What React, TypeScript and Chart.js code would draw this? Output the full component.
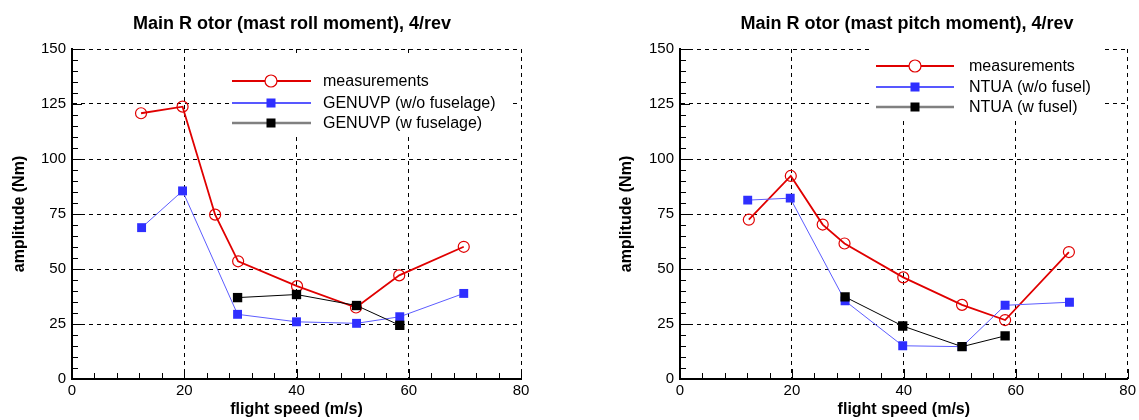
import React, { useEffect, useRef } from 'react';
import { Chart, registerables } from 'chart.js';

Chart.register(...registerables);

const FONT = '"Liberation Sans", Arial, Helvetica, sans-serif';

// ---- Axis ticks ----
const xTickValues = [0, 20, 40, 60, 80];
const yTickValues = [0, 25, 50, 75, 100, 125, 150];

// ---- Left chart: mast roll moment ----
const rollMeasSpeed = [12.3, 19.7, 25.5, 29.6, 40.1, 50.6, 58.3, 69.8];
const rollMeasAmp = [120.8, 123.8, 74.7, 53.5, 42.2, 32.5, 47.1, 60.1];
const rollNoFuseSpeed = [12.4, 19.7, 29.5, 40.0, 50.7, 58.4, 69.8];
const rollNoFuseAmp = [68.8, 85.5, 29.4, 26.0, 25.3, 28.3, 38.9];
const rollFuseSpeed = [29.5, 40.0, 50.7, 58.4];
const rollFuseAmp = [37.0, 38.4, 33.4, 24.4];

// ---- Right chart: mast pitch moment ----
const pitchMeasSpeed = [12.3, 19.8, 25.5, 29.4, 39.9, 50.4, 58.1, 69.5];
const pitchMeasAmp = [72.4, 92.3, 70.2, 61.6, 46.2, 33.7, 26.8, 57.7];
const pitchNoFuseSpeed = [12.1, 19.7, 29.5, 39.8, 50.4, 58.1, 69.6];
const pitchNoFuseAmp = [81.3, 82.2, 35.5, 15.1, 14.7, 33.5, 34.9];
const pitchFuseSpeed = [29.5, 39.8, 50.4, 58.1];
const pitchFuseAmp = [37.3, 24.1, 14.7, 19.6];

const leftTitle = 'Main R otor (mast roll moment), 4/rev';
const rightTitle = 'Main R otor (mast pitch moment), 4/rev';
const leftLegend = ['measurements', 'GENUVP (w/o fuselage)', 'GENUVP (w fuselage)'];
const rightLegend = ['measurements', 'NTUA (w/o fusel)', 'NTUA (w fusel)'];

const RED = '#e00000';
const BLUE_PT = '#2f2fff';
const BLUE_LN = '#5c5cff';

const zip = (xs: number[], ys: number[]) => xs.map((x, i) => ({ x, y: ys[i] }));

interface PanelCfg {
  width: number;
  padRight: number;
  yWidth: number;
  title: string;
  titleX: number;
  legend: string[];
  legendBox: [number, number, number, number];
  legendRows: number[];
  legendLine: [number, number];
  legendMarkX: number;
  legendTextX: number;
  meas: [number[], number[]];
  noFuse: [number[], number[]];
  fuse: [number[], number[]];
}

function decorPlugin(cfg: PanelCfg) {
  return {
    id: 'decor',
    afterDraw(chart: any) {
      const ctx = chart.ctx as CanvasRenderingContext2D;
      const { left, bottom } = chart.chartArea;
      const xs = chart.scales.x;
      const ys = chart.scales.y;
      ctx.save();
      // inward minor/major ticks
      ctx.strokeStyle = '#000';
      ctx.lineWidth = 1;
      ctx.beginPath();
      for (let v = 0; v <= 150; v += 5) {
        const py = Math.round(ys.getPixelForValue(v)) + 0.5;
        const len = v % 25 === 0 ? 9 : 5;
        ctx.moveTo(left, py);
        ctx.lineTo(left + 1 + len, py);
      }
      for (let v = 0; v <= 80; v += 4) {
        const px = Math.round(xs.getPixelForValue(v)) + 0.5;
        const len = v % 20 === 0 ? 9 : 5;
        ctx.moveTo(px, bottom);
        ctx.lineTo(px, bottom - 1 - len);
      }
      ctx.stroke();

      // title
      ctx.fillStyle = '#000';
      ctx.font = `bold 18px ${FONT}`;
      ctx.textAlign = 'center';
      ctx.textBaseline = 'middle';
      ctx.fillText(cfg.title, cfg.titleX, 24);

      // legend
      const [bx, by, bw, bh] = cfg.legendBox;
      ctx.fillStyle = '#fff';
      ctx.fillRect(bx, by, bw, bh);
      const [lx0, lx1] = cfg.legendLine;
      const mx = cfg.legendMarkX;
      const styles = [
        { line: RED, lw: 2, kind: 'circle' },
        { line: '#2020ff', lw: 1.5, kind: 'blue' },
        { line: '#808080', lw: 2.5, kind: 'black' },
      ];
      cfg.legendRows.forEach((ry, i) => {
        const s = styles[i];
        ctx.strokeStyle = s.line;
        ctx.lineWidth = s.lw;
        ctx.beginPath();
        ctx.moveTo(lx0, ry);
        ctx.lineTo(lx1, ry);
        ctx.stroke();
        if (s.kind === 'circle') {
          ctx.fillStyle = '#fff';
          ctx.strokeStyle = RED;
          ctx.lineWidth = 1.2;
          ctx.beginPath();
          ctx.arc(mx, ry, 6, 0, Math.PI * 2);
          ctx.fill();
          ctx.stroke();
        } else {
          ctx.fillStyle = s.kind === 'blue' ? BLUE_PT : '#000';
          ctx.fillRect(mx - 4.5, ry - 4.5, 9, 9);
        }
        ctx.fillStyle = '#000';
        ctx.font = `16px ${FONT}`;
        ctx.textAlign = 'left';
        ctx.textBaseline = 'middle';
        ctx.fillText(cfg.legend[i], cfg.legendTextX, ry + 1);
      });
      ctx.restore();
    },
  };
}

function Panel({ cfg, style }: { cfg: PanelCfg; style: React.CSSProperties }) {
  const ref = useRef<HTMLCanvasElement>(null);
  useEffect(() => {
    if (!ref.current) return;
    const tickFont = { family: FONT, size: 15 };
    const titleFont = { family: FONT, size: 16, weight: 'bold' as const };
    const chart = new Chart(ref.current, {
      type: 'line',
      data: {
        datasets: [
          {
            label: cfg.legend[0],
            data: zip(cfg.meas[0], cfg.meas[1]),
            borderColor: RED,
            borderWidth: 1.8,
            tension: 0,
            pointStyle: 'circle',
            pointRadius: 5.5,
            pointBorderColor: RED,
            pointBackgroundColor: 'rgba(0,0,0,0)',
            pointBorderWidth: 1.2,
            order: 2,
          },
          {
            label: cfg.legend[1],
            data: zip(cfg.noFuse[0], cfg.noFuse[1]),
            borderColor: BLUE_LN,
            borderWidth: 1,
            pointStyle: 'rect',
            pointRadius: 6.3,
            pointBorderWidth: 0,
            pointBorderColor: BLUE_PT,
            pointBackgroundColor: BLUE_PT,
            order: 1,
          },
          {
            label: cfg.legend[2],
            data: zip(cfg.fuse[0], cfg.fuse[1]),
            borderColor: '#000',
            borderWidth: 1,
            pointStyle: 'rect',
            pointRadius: 6.6,
            pointBorderWidth: 0,
            pointBorderColor: '#000',
            pointBackgroundColor: '#000',
            order: 0,
          },
        ],
      },
      options: {
        animation: false,
        responsive: false,
        maintainAspectRatio: false,
        devicePixelRatio: 1,
        layout: { padding: { top: 49, right: cfg.padRight, bottom: 0, left: 0 } },
        plugins: {
          legend: { display: false },
          title: { display: false },
          tooltip: { enabled: false },
        },
        scales: {
          x: {
            type: 'linear',
            min: 0,
            max: 80,
            afterBuildTicks: (s: any) => {
              s.ticks = xTickValues.map((v) => ({ value: v }));
            },
            afterFit: (s: any) => {
              s.height = 41;
            },
            grid: { color: '#000', lineWidth: 1, drawTicks: false },
            border: { display: true, color: '#000', width: 2, dash: [4, 4] },
            ticks: { font: tickFont, color: '#000', padding: 3, maxRotation: 0 },
            title: {
              display: true,
              text: 'flight speed (m/s)',
              font: titleFont,
              color: '#000',
              padding: { top: 0, bottom: 1 },
            },
          },
          y: {
            type: 'linear',
            min: 0,
            max: 150,
            afterBuildTicks: (s: any) => {
              s.ticks = yTickValues.map((v) => ({ value: v }));
            },
            afterFit: (s: any) => {
              s.width = cfg.yWidth;
            },
            grid: { color: '#000', lineWidth: 1, drawTicks: false },
            border: { display: true, color: '#000', width: 2, dash: [4, 4] },
            ticks: { font: tickFont, color: '#000', padding: 6 },
            title: {
              display: true,
              text: 'amplitude (Nm)',
              font: titleFont,
              color: '#000',
              padding: { top: 10.4, bottom: 0 },
            },
          },
        },
      } as any,
      plugins: [decorPlugin(cfg)],
    });
    return () => chart.destroy();
  }, [cfg]);
  return <canvas ref={ref} width={cfg.width} height={420} style={{ position: 'absolute', top: 0, ...style }} />;
}

const leftCfg: PanelCfg = {
  width: 560,
  padRight: 39,
  yWidth: 72,
  title: leftTitle,
  titleX: 292,
  legend: leftLegend,
  legendBox: [229, 53, 282, 84],
  legendRows: [81, 103, 123],
  legendLine: [232, 311],
  legendMarkX: 271,
  legendTextX: 323,
  meas: [rollMeasSpeed, rollMeasAmp],
  noFuse: [rollNoFuseSpeed, rollNoFuseAmp],
  fuse: [rollFuseSpeed, rollFuseAmp],
};

const rightCfg: PanelCfg = {
  width: 532,
  padRight: 11,
  yWidth: 73,
  title: rightTitle,
  titleX: 300,
  legend: rightLegend,
  legendBox: [266, 44, 230, 74],
  legendRows: [66, 87, 107],
  legendLine: [269, 347],
  legendMarkX: 308,
  legendTextX: 362,
  meas: [pitchMeasSpeed, pitchMeasAmp],
  noFuse: [pitchNoFuseSpeed, pitchNoFuseAmp],
  fuse: [pitchFuseSpeed, pitchFuseAmp],
};

export default function App() {
  return (
    <div style={{ position: 'fixed', left: 0, top: 0, width: 1139, height: 420, background: '#fff' }}>
      <Panel cfg={leftCfg} style={{ left: 0 }} />
      <Panel cfg={rightCfg} style={{ left: 607 }} />
    </div>
  );
}
